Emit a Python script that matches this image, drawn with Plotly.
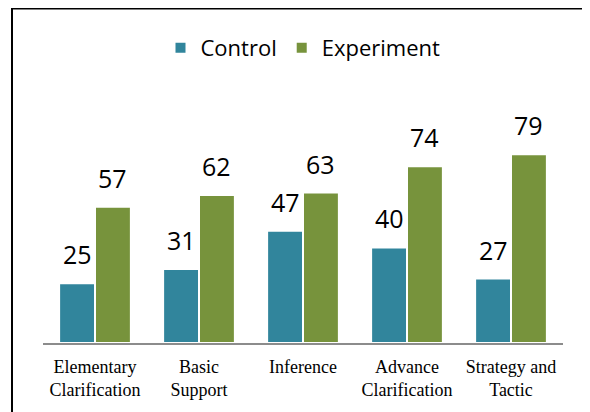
import plotly.graph_objects as go

categories = ["Elementary<br>Clarification", "Basic<br>Support", "Inference",
              "Advance<br>Clarification", "Strategy and<br>Tactic"]
control = [25, 31, 47, 40, 27]
experiment = [57, 62, 63, 74, 79]

TEAL = "#31859C"
GREEN = "#77933C"

fig = go.Figure()
fig.add_trace(go.Bar(name="Control", x=categories, y=control,
                     marker=dict(color=TEAL, line=dict(color="white", width=2))))
fig.add_trace(go.Bar(name="Experiment", x=categories, y=experiment,
                     marker=dict(color=GREEN, line=dict(color="white", width=2))))

# figure is offset by the page body margin (8px); work in figure pixels
L, R_EDGE, T, B_EDGE = 35, 555, 120, 335
PW, PH = R_EDGE - L, B_EDGE - T


def px(xf):
    return (xf - L) / PW


def py(yf):
    return (B_EDGE - yf) / PH


bargap = 0.31
half = (1 - bargap) / 4
annotations = []
for i, (c, e) in enumerate(zip(control, experiment)):
    for val, off in ((c, -half), (e, half)):
        annotations.append(dict(x=i + off, y=val, xref="x", yref="y", text=str(val),
                                showarrow=False, yanchor="bottom", yshift=10,
                                font=dict(family="Open Sans", size=25, color="black")))

shapes = [
    dict(type="line", xref="paper", yref="paper", x0=px(4), x1=px(4),
         y0=py(0), y1=py(420), line=dict(color="black", width=2)),
    dict(type="line", xref="paper", yref="paper", x0=px(4), x1=px(600),
         y0=py(0.5), y1=py(0.5), line=dict(color="black", width=2)),
]

fig.update_layout(
    width=582, height=404,
    margin=dict(l=L, r=582 - R_EDGE, t=T, b=404 - B_EDGE, autoexpand=False),
    paper_bgcolor="white", plot_bgcolor="white",
    barmode="group", bargap=bargap, bargroupgap=0,
    showlegend=True,
    legend=dict(orientation="h", x=0.5, xanchor="center", y=py(40), yanchor="middle",
                font=dict(family="Open Sans", size=22, color="black"),
                itemwidth=30, traceorder="normal"),
    xaxis=dict(showline=True, linecolor="#8c8c8c", linewidth=2, ticks="",
               ticklabelstandoff=6,
               tickfont=dict(family="Liberation Serif", size=18, color="black"),
               showgrid=False, fixedrange=True),
    yaxis=dict(range=[0, 90], visible=False, showgrid=False),
    annotations=annotations,
    shapes=shapes,
)

fig.write_html("out.html")
